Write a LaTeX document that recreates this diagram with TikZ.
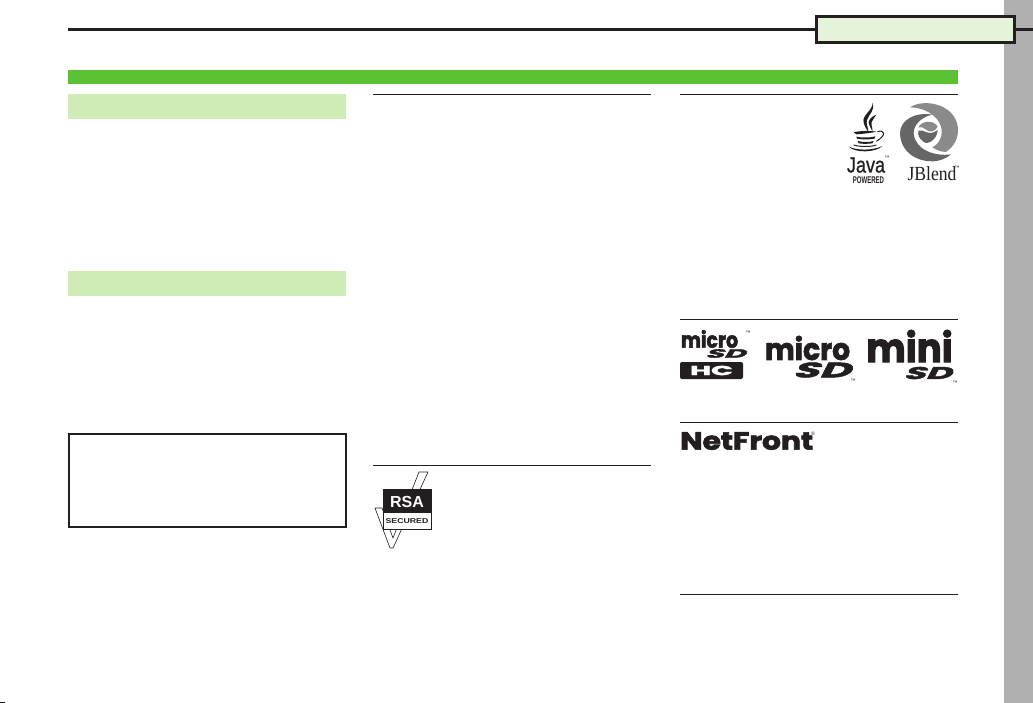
\documentclass[tikz,border=0pt]{standalone}
\usepackage{fontspec}
\setmainfont{Liberation Sans}
\newfontfamily\logoheavy[FakeBold=2.5]{Poppins Bold}
\newfontfamily\logoslant[FakeBold=2,FakeSlant=0.25]{Poppins Bold}
\newfontfamily\logoserif{Liberation Serif}
\newfontfamily\logojava[FakeBold=1]{Liberation Sans}
\definecolor{barGreen}{HTML}{5BC236}
\definecolor{paleGreen}{HTML}{CFECB6}
\definecolor{tabGreen}{HTML}{E5F3DA}
\definecolor{sideGray}{HTML}{B0B0B0}
\definecolor{inkBlack}{HTML}{231F20}
\definecolor{swirlDark}{HTML}{666666}
\definecolor{swirlLight}{HTML}{8A8A8A}
\tikzset{
	rule/.style={draw=inkBlack,line width=1pt},
	logotext/.style={inner sep=0pt,text=inkBlack},
	tiny mark/.style={inner sep=0pt,text=inkBlack,font=\fontsize{5}{5}\selectfont},
}
\begin{document}
\begin{tikzpicture}
	[x=1pt,y=-1pt]
	\useasboundingbox (0,0) rectangle (1033,703);
	\fill[white] (0,0) rectangle (1033,703);
	\fill[sideGray] (1004,0) rectangle (1033,703);
	\fill[inkBlack] (0,702) rectangle (5,703);
	\draw[inkBlack,line width=3pt] (68,29.5) -- (815,29.5);
	\draw[inkBlack,line width=3pt] (1015,29.5) -- (1033,29.5);
	\node[draw=inkBlack,line width=3pt,fill=tabGreen,minimum width=198pt,minimum height=26pt,inner sep=0pt] (tab) at (915.5,29.5) {};
	\fill[barGreen] (68,70) rectangle (958,84);
	\fill[paleGreen] (68,94) rectangle (346,119);
	\fill[paleGreen] (68,271) rectangle (346,296);
	\draw[inkBlack,line width=2pt] (69,434) rectangle (345.5,526.5);
	\draw[rule] (373,94.5) -- (651,94.5);
	\draw[rule] (373,465.5) -- (651,465.5);
	\draw[rule] (680,94.5) -- (958,94.5);
	\draw[rule] (680,319.5) -- (958,319.5);
	\draw[rule] (680,422.5) -- (958,422.5);
	\draw[rule] (680,594.5) -- (958,594.5);
	% java
	\begin{scope}[shift={(843,100)},x=0.3333pt,y=-0.3333pt]
		\fill[inkBlack] (88,8) .. controls (92,30) and (55,45) .. (62,68) .. controls (65,80) and (72,90) .. (76,96) .. controls (76,80) and (68,72) .. (72,60) .. controls (78,42) and (98,30) .. (88,8) -- cycle;
		\fill[inkBlack] (100,44) .. controls (85,50) and (70,62) .. (80,78) .. controls (83,85) and (86,88) .. (88,94) .. controls (90,82) and (82,75) .. (86,66) .. controls (90,56) and (96,52) .. (100,44) -- cycle;
		\fill[inkBlack] (32,97) .. controls (50,92) and (85,92) .. (100,95) .. controls (85,99) and (55,102) .. (40,103) .. controls (36,102) and (33,100) .. (32,97) -- cycle;
		\fill[inkBlack] (40,110) .. controls (55,114) and (85,113) .. (97,109) -- (95,116) .. controls (80,119) and (55,119) .. (42,116) -- cycle;
		\fill[inkBlack] (44,123) .. controls (58,127) and (80,127) .. (92,123) -- (88,130) .. controls (75,132) and (58,132) .. (47,130) -- cycle;
		\draw[inkBlack,line width=1pt] (103,95) .. controls (125,88) and (132,105) .. (100,124);
		\draw[inkBlack,line width=1pt] (32,135) .. controls (50,141) and (85,141) .. (100,135);
		\fill[inkBlack] (18,140) .. controls (40,152) and (90,152) .. (118,138) .. controls (100,158) and (35,160) .. (18,140) -- cycle;
	\end{scope}
	\node[logotext,font=\logojava\fontsize{22}{22}\selectfont,xscale=0.82] (javaword) at (866,165) {Java};
	\node[tiny mark] (javatm) at (887,158) {™};
	\node[logotext,font=\bfseries\fontsize{9.7}{10}\selectfont,xscale=0.62] (javasub) at (868.5,180.5) {POWERED};
	% jblend
	\begin{scope}[shift={(895,100)},x=0.3333pt,y=-0.3333pt]
		\fill[swirlDark] (112,44) .. controls (60,35) and (15,60) .. (15,100) .. controls (17,160) and (70,186) .. (115,184) .. controls (135,183) and (155,175) .. (168,163) .. controls (120,170) and (60,150) .. (56,100) .. controls (55,75) and (80,50) .. (112,44) -- cycle;
		\fill[swirlLight] (45,22) .. controls (90,-8) and (192,15) .. (189,95) .. controls (187,125) and (170,145) .. (152,156) .. controls (135,155) and (125,150) .. (112,142) .. controls (135,130) and (145,105) .. (138,80) .. controls (128,45) and (85,22) .. (45,22) -- cycle;
		\fill[swirlLight] (70,82) .. controls (80,62) and (115,58) .. (128,80) .. controls (120,95) and (105,100) .. (92,88) .. controls (85,82) and (78,80) .. (70,82) -- cycle;
		\fill[swirlDark] (70,92) .. controls (85,85) and (100,112) .. (128,90) .. controls (128,115) and (100,138) .. (85,125) .. controls (72,115) and (68,105) .. (70,92) -- cycle;
	\end{scope}
	\node[logotext,font=\logoserif\fontsize{20}{20}\selectfont,xscale=0.88] (jblendword) at (932,174) {JBlend};
	\node[tiny mark] (jblendtm) at (957,168) {™};
	% sd logos
	\node[logotext,font=\logoheavy\fontsize{22}{22}\selectfont,xscale=0.86] (hcmicro) at (709.5,339) {micro};
	\node[tiny mark] (hctm) at (748,333) {™};
	\node[logotext,font=\logoslant\fontsize{12}{12}\selectfont,xscale=2.5] (hcsd) at (725,353.5) {SD};
	\node[logotext,fill=inkBlack,text=white,rounded corners=2pt,minimum width=63pt,minimum height=17pt,font=\logoheavy\fontsize{13}{13}\selectfont] (hcbox) at (711.5,370.5) {\scalebox{2.2}[1]{HC}};
	\node[logotext,font=\logoheavy\fontsize{30}{30}\selectfont,xscale=0.94] (micrologo) at (807.5,348) {micro};
	\node[logotext,font=\logoslant\fontsize{21}{21}\selectfont,xscale=2.05] (microsd) at (821,370) {SD};
	\node[tiny mark] (microtm) at (853,381) {™};
	\node[logotext,font=\logoheavy\fontsize{40}{40}\selectfont,xscale=0.93] (minilogo) at (909.5,346) {mini};
	\node[logotext,font=\logoslant\fontsize{17}{17}\selectfont,xscale=2.1] (minisd) at (927,373) {SD};
	\node[tiny mark] (minitm) at (955,383) {™};
	% netfront
	\node[logotext,anchor=west,font=\logoheavy\fontsize{25}{25}\selectfont,xscale=1.19] (netfront) at (680,441) {NetFront};
	\node[tiny mark] (netreg) at (813,434) {®};
	% rsa
	\draw[inkBlack,line width=0.6pt] (419,472) -- (428,472) -- (393,548) -- (390,548) -- (375,508) -- (382,508) -- (393,538) -- cycle;
	\node[draw=inkBlack,fill=white,line width=0.6pt,minimum width=48pt,minimum height=40pt,inner sep=0pt] (rsabox) at (407,509.5) {};
	\fill[inkBlack] (383,489.5) rectangle (431,513);
	\node[logotext,text=white,font=\bfseries\fontsize{16}{16}\selectfont] (rsaword) at (407,502) {RSA};
	\node[logotext,font=\bfseries\fontsize{7}{7}\selectfont,xscale=1.25] (rsasub) at (407,521) {SECURED};
\end{tikzpicture}
\end{document}
